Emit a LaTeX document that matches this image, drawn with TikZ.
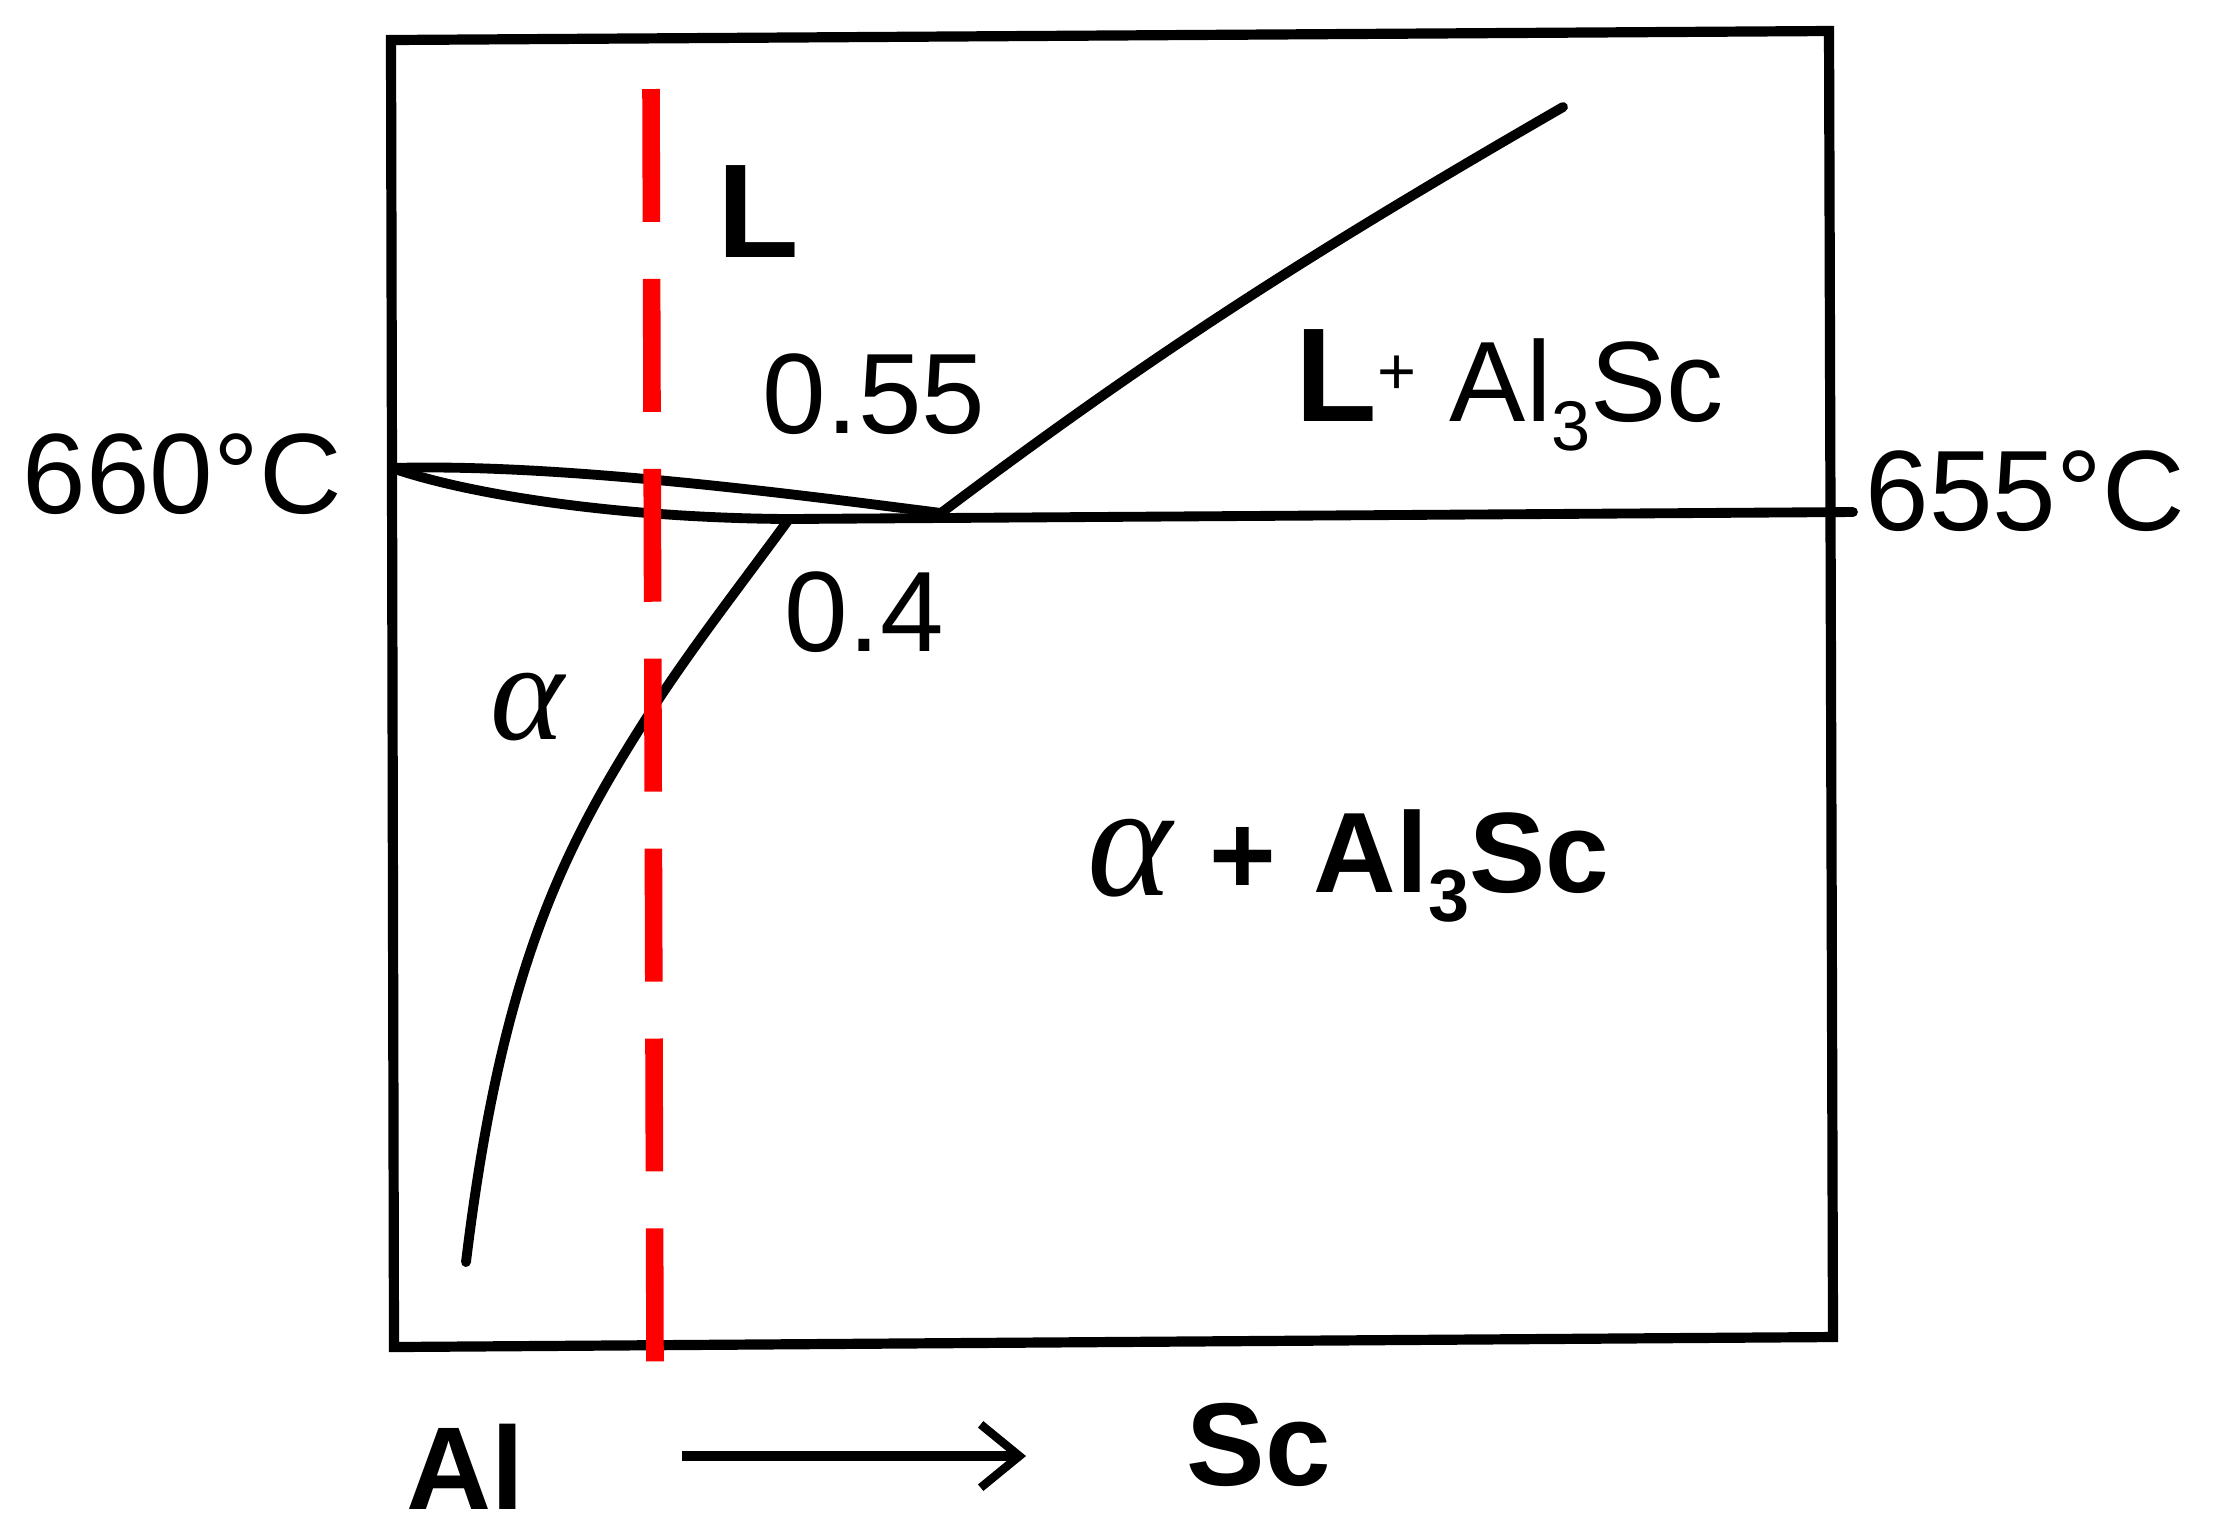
\documentclass[tikz,border=0pt]{standalone}
\usepackage{fontspec}
\setmainfont{Liberation Sans}
\newfontfamily\grkfont{Liberation Serif}
\usetikzlibrary{arrows.meta}
\begin{document}
\begin{tikzpicture}[x=0.01cm,y=-0.01cm,
  curve/.style={line width=2.8pt, line cap=round, line join=round},
  frame/.style={line width=2.9pt, line join=miter},
  reddash/.style={red, line width=5pt, dash pattern=on 37.8pt off 16.2pt},
  lbl/.style={inner sep=0pt, anchor=base west, font=\fontsize{32.5}{39}\selectfont},
  blbl/.style={inner sep=0pt, anchor=base west, font=\fontsize{38}{45}\selectfont\bfseries},
  axl/.style={inner sep=0pt, anchor=base west, font=\fontsize{33.5}{40}\selectfont\bfseries},
  grk/.style={inner sep=0pt, font=\grkfont\itshape\fontsize{#1}{#1}\selectfont}]
\useasboundingbox (0,0) rectangle (2228,1532);
% frame
\coordinate (tl) at (391,40);
\coordinate (tr) at (1829,31);
\coordinate (br) at (1833,1337);
\coordinate (bl) at (394,1347);
\draw[frame] (tl) -- (tr) -- (br) -- (bl) -- cycle;
% key points
\coordinate (m) at (392,468);
\coordinate (eu) at (941,513);
\coordinate (sj) at (789,519);
\coordinate (rt) at (1853,512);
\coordinate (lt) at (1563,107);
\coordinate (sk) at (651,711);
\coordinate (sv) at (466,1262);
% liquidus (left)
\draw[curve] (m) .. controls (560,463) and (800,495) .. (eu);
% solidus
\draw[curve] (m) .. controls (470,495) and (620,518) .. (sj);
% eutectic line
\draw[curve] (sj) -- (rt);
% liquidus (right)
\draw[curve] (eu) .. controls (1150,356) and (1303,257) .. (lt);
% solvus
\draw[curve] (sj) .. controls (743,582) and (690,650) .. (sk)
  .. controls (565,845) and (502,965) .. (sv);
% red dashed composition line
\coordinate (rtop) at (651,89);
\coordinate (rbot) at (655,1363);
\draw[reddash] (rtop) -- (rbot);
% labels
\node[lbl] (t660) at (22,513) {660°C};
\node[lbl] (t655) at (1865,530) {655°C};
\node[blbl] (tL) at (717,257) {L};
\node[lbl] (t055) at (762,433) {0.55};
\node[lbl] (t04) at (784,651) {0.4};
\node[inner sep=0pt, anchor=base west] (tLAl) at (1295,421)
  {\fontsize{38}{45}\selectfont\bfseries L\mdseries\fontsize{19}{22}\selectfont\raisebox{7.6pt}{+}\fontsize{32.5}{39}\selectfont\hspace{9.5pt}Al\raisebox{-8.3pt}{\fontsize{20}{24}\selectfont 3}Sc};
\node[grk=40] (talpha) at (527,707) {α};
\node[grk=46] (tmixa) at (1130,858) {α};
\node[inner sep=0pt, font=\fontsize{32.5}{39}\selectfont\bfseries] (tmixp) at (1243,861) {+};
\node[inner sep=0pt, anchor=base west] (tmixb) at (1313,892)
  {\fontsize{32.5}{39}\selectfont\bfseries Al\raisebox{-8.3pt}{\fontsize{21}{25}\selectfont 3}Sc};
\node[axl] (tAl) at (406,1509) {Al};
\node[axl] (tSc) at (1186,1485) {Sc};
% composition arrow
\coordinate (a1) at (682,1456);
\coordinate (a2) at (1026,1456);
\draw[line width=2.6pt, -{Straight Barb[length=11pt, width=18pt, line width=2.4pt]}] (a1) -- (a2);
\end{tikzpicture}
\end{document}
